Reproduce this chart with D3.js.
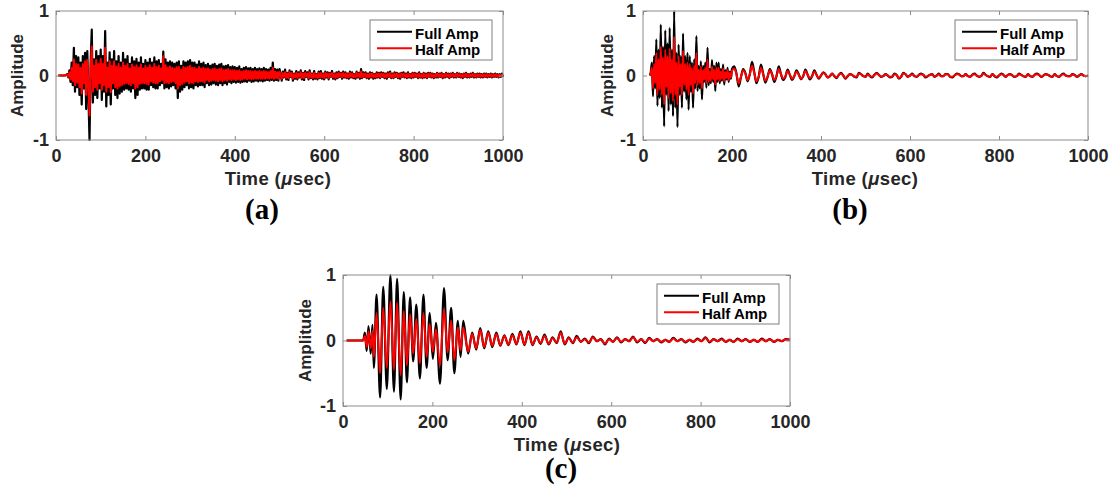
<!DOCTYPE html>
<html><head><meta charset="utf-8">
<script src="https://cdn.jsdelivr.net/npm/d3@7"></script>
<style>
body{margin:0;background:#fff;}
svg{display:block;}
text{font-family:"Liberation Sans",Arial,sans-serif;}
</style></head><body>
<svg id="chart" width="1117" height="488"></svg>
<script>
// ---------------- DATA ----------------
const xTickValues = [0, 200, 400, 600, 800, 1000];
const xTickLabels = ["0", "200", "400", "600", "800", "1000"];
const yTickValues = [-1, 0, 1];
const yTickLabels = ["-1", "0", "1"];
const seriesNames = ["Full Amp", "Half Amp"];
const panelLabels = ["(a)", "(b)", "(c)"];
const xAxisTitle = "Time (";
const yAxisTitle = "Amplitude";

// Panel (a): samples every 2.5 µs from 5 µs to 1000 µs
const aStart = 5, aStep = 2.5;
const aFull = [
 0,0,0,0,0,0,0,.01,.02,-.03,.08,-.1,.2,-.15,.43,-.25,.3,-.18,.28,-.3,
 .2,-.45,.3,-.2,.35,-.52,.38,-.3,-1.0,.2,.71,-.42,.25,-.3,.38,-.35,.3,-.2,.4,-.38,
 .3,-.25,.69,-.48,.2,-.3,.36,-.45,.25,-.2,.38,-.3,.22,-.35,.3,-.28,.2,-.25,.35,-.22,
 .25,-.2,.3,-.22,.18,-.25,.28,-.2,.22,-.35,.26,-.3,.2,-.22,.28,-.2,.18,-.2,.24,-.22,
 .2,-.22,.26,-.15,.2,-.18,.28,-.2,.22,-.2,.24,-.15,.18,-.12,.37,-.2,.25,-.18,.2,-.2,
 .22,-.17,.2,-.15,.18,-.2,.2,-.35,.22,-.25,.15,-.22,.22,-.18,.2,-.15,.22,-.2,.24,-.18,
 .2,-.2,.2,-.15,.17,-.17,.22,-.15,.18,-.15,.2,-.18,.16,-.12,.18,-.15,.15,-.14,.17,-.12,
 .18,-.14,.15,-.15,.17,-.12,.18,-.15,.14,-.12,.15,-.14,.16,-.1,.13,-.12,.14,-.1,.13,-.11,
 .12,-.1,.14,-.11,.1,-.1,.12,-.09,.13,-.1,.11,-.08,.12,-.1,.1,-.09,.12,-.08,.1,-.09,
 .11,-.08,.1,-.09,.12,-.08,.1,-.07,.09,-.08,.12,-.07,.2,-.08,.1,-.07,.09,-.08,.1,
 .02,-.08,.06,-.03,.09,-.06,.04,-.07,.08,-.02,.06,-.08,.03,-.05,.07,-.06,.05,-.03,.08,-.06,
 .04,-.07,.07,-.02,.05,-.06,.08,-.04,.03,-.06,.07,-.05,.02,-.06,.06,-.04,.07,-.05,.03,-.06,
 .06,-.03,.05,-.06,.04,-.02,.07,-.05,.03,-.06,.05,-.04,.06,-.02,.04,-.05,.06,-.03,.05,-.04,
 .03,-.05,.06,-.03,.05,-.04,.02,-.05,.06,-.03,.04,-.05,.1,-.04,.05,-.02,.05,-.04,.03,-.05,
 .05,-.03,.04,-.05,.02,-.04,.05,-.03,.04,-.04,.05,-.02,.04,-.04,.03,-.05,.05,-.02,.06,-.04,
 .03,-.04,.05,-.02,.04,-.04,.03,-.05,.04,-.02,.05,-.03,.03,-.04,.05,-.03,.02,-.04,.04,-.03,
 .04,-.02,.03,-.04,.05,-.03,.02,-.04,.04,-.03,.03,-.04,.04,-.02,.04,-.03,.03,-.04,.02,-.03,
 .04,-.03,.03,-.02,.04,-.04,.02,-.03,.04,-.02,.03,-.04,.03,-.02,.04,-.03,.02,-.03,.04,-.02,
 .03,-.03,.02,-.04,.03,-.02,.04,-.03,.02,-.03,.03,-.02,.04,-.03,.02,-.03,.03,-.02,.03,-.03,
 .02,-.03,.03,-.02,.03,-.03,.02,-.02,.03,-.03,.02,-.02,.03,-.02,.02,-.03,.02,-.02,.03,-.02
];
const aHalf = [
 0,0,0,0,0,0,0,.01,.01,-.02,.05,-.06,.12,-.09,.25,-.15,.18,-.11,.17,-.18,
 .12,-.28,.18,-.12,.22,-.3,.24,-.18,-.62,.12,.45,-.25,.15,-.18,.24,-.22,.18,-.12,.26,-.22,
 .18,-.15,.43,-.25,.12,-.18,.22,-.26,.15,-.12,.22,-.18,.14,-.2,.18,-.17,.12,-.15,.2,-.13,
 .15,-.12,.18,-.13,.11,-.15,.17,-.12,.13,-.2,.16,-.18,.12,-.13,.17,-.12,.11,-.12,.15,-.13,
 .12,-.14,.16,-.09,.12,-.11,.18,-.12,.13,-.12,.15,-.09,.11,-.07,.3,-.12,.16,-.11,.12,-.12,
 .14,-.1,.12,-.09,.11,-.12,.13,-.2,.13,-.15,.09,-.13,.13,-.11,.12,-.09,.13,-.12,.15,-.11,
 .12,-.12,.12,-.09,.1,-.1,.13,-.09,.11,-.09,.12,-.11,.1,-.07,.11,-.09,.09,-.08,.1,-.07,
 .11,-.08,.09,-.09,.1,-.07,.11,-.09,.08,-.07,.09,-.08,.1,-.06,.08,-.07,.08,-.06,.08,-.07,
 .07,-.06,.08,-.07,.06,-.06,.07,-.05,.08,-.06,.07,-.05,.07,-.06,.06,-.05,.07,-.05,.06,-.05,
 .07,-.05,.06,-.05,.07,-.05,.06,-.04,.05,-.05,.07,-.04,.12,-.05,.06,-.04,.05,-.05,.06,
 .01,-.05,.04,-.02,.05,-.04,.03,-.04,.05,-.01,.04,-.05,.02,-.03,.04,-.04,.03,-.02,.05,-.04,
 .03,-.04,.04,-.01,.03,-.04,.05,-.03,.02,-.04,.04,-.03,.01,-.04,.04,-.03,.04,-.03,.02,-.04,
 .04,-.02,.03,-.04,.03,-.01,.04,-.03,.02,-.04,.03,-.03,.04,-.01,.03,-.03,.04,-.02,.03,-.03,
 .02,-.03,.04,-.02,.03,-.03,.01,-.03,.04,-.02,.03,-.03,.06,-.03,.03,-.01,.03,-.03,.02,-.03,
 .03,-.02,.03,-.03,.01,-.03,.03,-.02,.03,-.03,.03,-.01,.03,-.03,.02,-.03,.03,-.01,.04,-.03,
 .02,-.03,.03,-.01,.03,-.03,.02,-.03,.03,-.01,.03,-.02,.02,-.03,.03,-.02,.01,-.03,.03,-.02,
 .03,-.01,.02,-.03,.03,-.02,.01,-.03,.03,-.02,.02,-.03,.03,-.01,.03,-.02,.02,-.03,.01,-.02,
 .03,-.02,.02,-.01,.03,-.03,.01,-.02,.03,-.01,.02,-.03,.02,-.01,.03,-.02,.01,-.02,.03,-.01,
 .02,-.02,.01,-.03,.02,-.01,.03,-.02,.01,-.02,.02,-.01,.03,-.02,.01,-.02,.02,-.01,.02,-.02,
 .01,-.02,.02,-.01,.02,-.02,.01,-.01,.02,-.02,.01,-.01,.02,-.01,.01,-.02,.01,-.01,.02,-.01
];

// Panel (b): dense part every 2.5 µs from 15 µs (75 samples), tail every 5 µs from 205 µs
const bDenseStart = 15, bDenseStep = 2.5, bDenseCount = 75, bTailStart = 205, bTailStep = 5;
const bFull = [
 0,.05,.2,-.32,.3,-.2,.56,-.47,.4,-.35,.79,-.5,.45,-.79,.7,-.3,.5,-.55,.74,-.45,
 .4,-.63,1.0,-.5,.35,-.8,.48,-.3,.3,-.5,.65,-.25,.3,-.37,.35,-.53,.3,-.25,.2,-.5,
 .25,-.2,.61,-.24,.15,-.2,.22,-.37,.15,-.1,.2,-.19,.43,-.15,.1,-.12,.24,-.1,.15,-.24,
 .2,-.1,.2,-.12,.1,-.08,.17,-.14,.08,-.06,.12,-.1,.06,-.05,.1,
 .14,.03,-.17,-.03,  .1,.04,-.09,.02,  .21,.05,-.12,-.02,  .17,.03,-.11,-.02,
 .1,.02,-.1,-.01,    .14,.02,-.07,-.02, .09,.01,-.07,-.01,  .08,.02,-.06,-.01,
 .09,.01,-.06,-.01,  .08,.01,-.05,0,
 .05,.02,-.03,-.01,  .03,-.01,-.04,.01, .04,0,-.05,-.01,    .02,.01,-.02,-.03,
 .04,.02,-.01,-.02,  .03,-.01,-.03,.01, .04,.01,-.02,-.01,  .02,0,-.03,-.02,
 .03,.01,-.05,-.02,  .04,.02,-.02,0,    .03,-.01,-.02,.01,  .03,.01,-.03,-.01,
 .01,.02,-.02,0,     .03,-.01,-.01,.02, .02,-.02,-.03,0,    .03,.02,-.01,-.01,
 .02,-.01,-.02,.01,  .03,0,-.02,-.01,   .04,.01,-.01,-.02,  .02,-.01,-.03,0,
 .03,.01,-.02,.01,   .02,0,-.02,-.01,   .03,.01,-.01,-.02,  .02,-.01,-.02,.01,
 .03,.01,-.02,0,     .02,.01,-.01,-.02, .02,-.01,-.02,.01,  .03,0,-.01,-.01,
 .02,.01,-.02,0,     .02,0,-.01,0
];
const bHalf = [
 0,.03,.12,-.2,.18,-.12,.35,-.3,.25,-.22,.45,-.3,.28,-.45,.4,-.18,.3,-.35,.42,-.28,
 .25,-.4,.6,-.3,.2,-.45,.3,-.18,.18,-.3,.38,-.15,.18,-.22,.2,-.3,.18,-.15,.12,-.28,
 .15,-.12,.35,-.15,.09,-.12,.14,-.2,.09,-.06,.12,-.12,.25,-.1,.06,-.08,.14,-.06,.09,-.14,
 .12,-.06,.12,-.08,.06,-.05,.11,-.09,.05,-.04,.08,-.07,.04,-.03,.07,
 .11,.02,-.12,-.02,  .08,.03,-.07,.02,  .15,.04,-.09,-.02,  .12,.02,-.08,-.02,
 .08,.02,-.07,-.01,  .1,.02,-.05,-.01,  .07,.01,-.05,-.01,  .06,.01,-.05,-.01,
 .07,.01,-.04,-.01,  .06,.01,-.04,0,
 .04,.02,-.03,-.01,  .03,-.01,-.03,.01, .03,0,-.04,-.01,    .02,.01,-.02,-.02,
 .03,.02,-.01,-.02,  .02,-.01,-.02,.01, .03,.01,-.02,-.01,  .02,0,-.02,-.02,
 .02,.01,-.04,-.02,  .03,.02,-.02,0,    .02,-.01,-.02,.01,  .02,.01,-.02,-.01,
 .01,.02,-.02,0,     .02,-.01,-.01,.02, .02,-.02,-.02,0,    .02,.02,-.01,-.01,
 .02,-.01,-.02,.01,  .02,0,-.02,-.01,   .03,.01,-.01,-.02,  .02,-.01,-.02,0,
 .02,.01,-.02,.01,   .02,0,-.02,-.01,   .02,.01,-.01,-.02,  .02,-.01,-.02,.01,
 .02,.01,-.02,0,     .02,.01,-.01,-.02, .02,-.01,-.02,.01,  .02,0,-.01,-.01,
 .02,.01,-.02,0,     .02,0,-.01,0
];

// Panel (c): extrema of the main burst at read-off times, then a tail sampled every 9 µs from 280 µs
const cTimeMain = [8,45,49,53,57,62,66,69,75,83, 90,98,106,114,121,129,136,143,150,157,
 164,172,180,187,194,201,208,217,226,234, 242,249,257,263,269];
const cTailStart = 280, cTailStep = 9;
const cFull = [
 0,0,.12,-.16,.22,-.2,.24,-.42,.7,-.87, .82,-.74,1.0,-.78,.94,-.9,.74,-.64,.66,-.32,
 .55,-.58,.7,-.42,.42,-.28,.27,-.66,.8,-.3, .5,-.5,.3,-.25,.3,
 -.2,.12,-.14,.19,-.12,.14,-.1,.12,-.08,.08, -.07,.1,-.06,.14,-.07,.14,-.07,.06,-.05,.09,
 -.06,.05,-.04,.14,-.06,
 .05,-.04,.07,-.02,.03,-.04,.06,-.01,.02,-.06, .03,-.02,.05,-.03,.02,-.01,.06,-.03,.02,-.04,
 .04,-.01,.02,-.03,.01,-.02,.04,-.01,.02,-.03, .01,-.02,.03,-.01,.05,-.03,.02,-.01,.03,-.02,
 .01,-.02,.03,-.01,.02,-.02,.01,-.02,.03,-.01, .02,-.02,.01,-.01,.02,.01
];
const cHalf = [
 0,0,.07,-.1,.14,-.12,.15,-.25,.42,-.5, .5,-.42,.6,-.45,.58,-.53,.45,-.38,.4,-.2,
 .33,-.35,.42,-.25,.25,-.17,.17,-.38,.48,-.18, .3,-.3,.2,-.15,.2,
 -.17,.1,-.12,.16,-.1,.12,-.08,.1,-.07,.07, -.06,.08,-.05,.12,-.06,.12,-.06,.05,-.04,.07,
 -.05,.04,-.03,.12,-.05,
 .04,-.03,.05,-.02,.02,-.03,.05,-.01,.02,-.05, .02,-.02,.04,-.02,.02,-.01,.05,-.02,.02,-.03,
 .03,-.01,.02,-.02,.01,-.02,.03,-.01,.02,-.02, .01,-.02,.02,-.01,.04,-.02,.02,-.01,.02,-.02,
 .01,-.02,.02,-.01,.02,-.02,.01,-.02,.02,-.01, .02,-.02,.01,-.01,.02,.01
];

// ---------------- BUILD ----------------
const aTime = aFull.map((_, i) => aStart + i * aStep);
const bTime = d3.range(bFull.length).map(i => i < bDenseCount ? bDenseStart + i * bDenseStep : bTailStart + (i - bDenseCount) * bTailStep);
const cTime = cTimeMain.concat(d3.range(cFull.length - cTimeMain.length).map(j => cTailStart + j * cTailStep));

const panels = [
  {time: aTime, full: aFull, half: aHalf, curve: d3.curveLinear,
   left: 56, right: 503, top: 11, bottom: 140, labelX: 262, labelY: 219, titleX: 278, ampX: 17},
  {time: bTime, full: bFull, half: bHalf, curve: d3.curveMonotoneX,
   left: 643, right: 1088, top: 11, bottom: 140, labelX: 850, labelY: 219, titleX: 865, ampX: 607},
  {time: cTime, full: cFull, half: cHalf, curve: d3.curveMonotoneX,
   left: 343, right: 790, top: 275, bottom: 406, labelX: 561, labelY: 478, titleX: 567, ampX: 305}
];

const svg = d3.select("#chart");
const textCol = "#262626";
const boxCol = "#8c8c8c";

panels.forEach((p, pi) => {
  const x = d3.scaleLinear().domain([0, 1000]).range([p.left, p.right]);
  const y = d3.scaleLinear().domain([-1, 1]).range([p.bottom, p.top]);
  const g = svg.append("g");

  const line = d3.line().x(d => x(d[0])).y(d => y(d[1])).curve(p.curve);
  const fullData = p.time.map((t, i) => [t, p.full[i]]);
  const halfData = p.time.map((t, i) => [t, p.half[i]]);

  g.append("path").attr("d", line(fullData)).attr("fill", "none")
    .attr("stroke", "#000").attr("stroke-width", 2.2).attr("stroke-linejoin", "round");
  g.append("path").attr("d", line(halfData)).attr("fill", "none")
    .attr("stroke", "#ff0000").attr("stroke-width", 2).attr("stroke-linejoin", "round");

  // axes (ticks inside)
  const ax = g.append("g").attr("transform", `translate(0,${p.bottom})`)
    .call(d3.axisBottom(x).tickValues(xTickValues).tickSizeInner(-4).tickSizeOuter(0).tickPadding(9)
      .tickFormat((d, i) => xTickLabels[i]));
  const axT = g.append("g").attr("transform", `translate(0,${p.top})`)
    .call(d3.axisTop(x).tickValues(xTickValues).tickSizeInner(-4).tickSizeOuter(0).tickFormat(""));
  const ay = g.append("g").attr("transform", `translate(${p.left},0)`)
    .call(d3.axisLeft(y).tickValues(yTickValues).tickSizeInner(-4).tickSizeOuter(0).tickPadding(7)
      .tickFormat((d, i) => yTickLabels[i]));
  const ayR = g.append("g").attr("transform", `translate(${p.right},0)`)
    .call(d3.axisRight(y).tickValues(yTickValues).tickSizeInner(-4).tickSizeOuter(0).tickFormat(""));
  [ax, axT, ay, ayR].forEach(a => {
    a.select(".domain").remove();
    a.selectAll("line").attr("stroke", boxCol);
    a.selectAll("text").attr("fill", textCol).style("font-size", "18px").style("font-weight", "bold")
      .style("font-family", "'Liberation Sans',Arial,sans-serif");
  });
  g.append("rect").attr("x", p.left).attr("y", p.top)
    .attr("width", p.right - p.left).attr("height", p.bottom - p.top)
    .attr("fill", "none").attr("stroke", boxCol).attr("stroke-width", 1);

  // axis titles
  const tt = g.append("text").attr("x", p.titleX).attr("y", p.bottom + 45)
    .attr("text-anchor", "middle").attr("fill", textCol)
    .style("font-size", "18.5px").style("font-weight", "bold").style("letter-spacing", "0.4px");
  tt.append("tspan").text(xAxisTitle);
  tt.append("tspan").text("\u03bc").style("font-style", "italic");
  tt.append("tspan").text("sec)");

  g.append("text").attr("transform", `translate(${p.ampX + 6},${(p.top + p.bottom) / 2}) rotate(-90)`)
    .attr("text-anchor", "middle").attr("fill", textCol)
    .style("font-size", "17px").style("font-weight", "bold").text(yAxisTitle);

  // legend
  const lw = 122, lh = 40;
  const lx = p.right - 11 - lw, ly = p.top + 9;
  const lg = g.append("g");
  lg.append("rect").attr("x", lx).attr("y", ly).attr("width", lw).attr("height", lh)
    .attr("fill", "#fff").attr("stroke", "#7f7f7f").attr("stroke-width", 1);
  [["#000", 11.7, 19], ["#ff0000", 28.3, 35]].forEach((s, i) => {
    lg.append("line").attr("x1", lx + 7).attr("x2", lx + 42).attr("y1", ly + s[1]).attr("y2", ly + s[1])
      .attr("stroke", s[0]).attr("stroke-width", 2);
    lg.append("text").attr("x", lx + 45).attr("y", ly + s[2]).attr("fill", "#000")
      .style("font-size", "15px").style("font-weight", "bold").text(seriesNames[i]);
  });

  // panel label
  g.append("text").attr("x", p.labelX).attr("y", p.labelY).attr("text-anchor", "middle")
    .attr("fill", "#000").style("font-family", "'Liberation Serif','Times New Roman',serif")
    .style("font-size", "29px").style("font-weight", "bold").text(panelLabels[pi]);
});
</script>
</body></html>
